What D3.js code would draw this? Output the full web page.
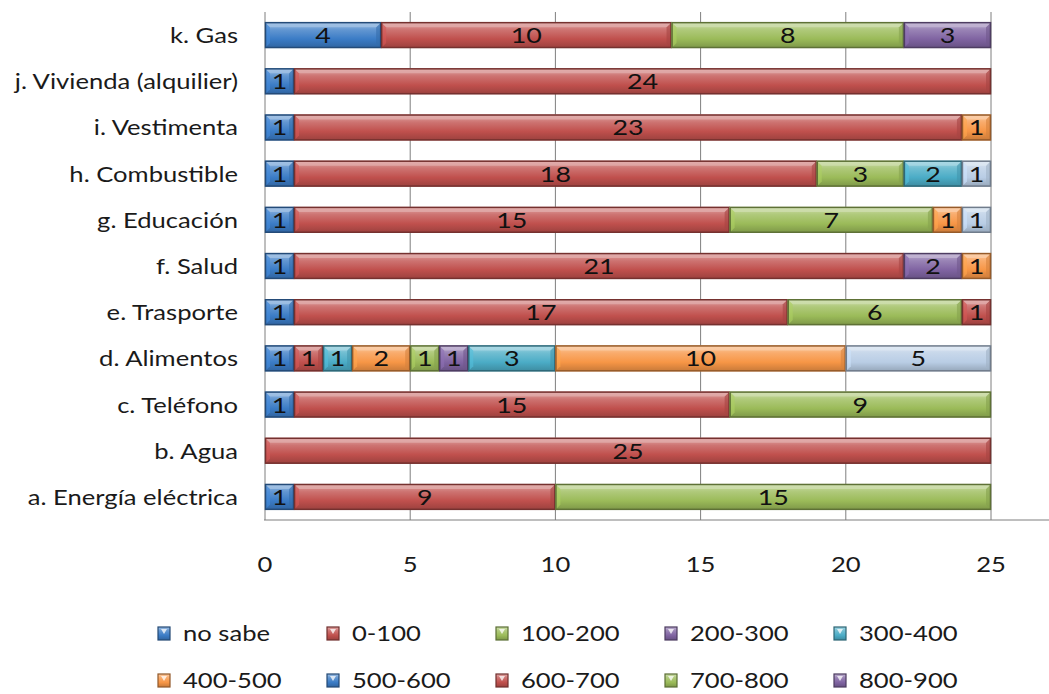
<!DOCTYPE html>
<html>
<head>
<meta charset="utf-8">
<script src="https://cdn.jsdelivr.net/npm/d3@7"></script>
<style>
  html, body { margin: 0; padding: 0; background: #fff; }
  svg { display: block; font-family: Lato, "Open Sans", sans-serif; }
</style>
</head>
<body>
<svg id="chart" width="1049" height="694"></svg>
<script>
// ---- data ----
const categories = ["k. Gas", "j. Vivienda (alquilier)", "i. Vestimenta", "h. Combustible",
  "g. Educación", "f. Salud", "e. Trasporte", "d. Alimentos", "c. Teléfono", "b. Agua",
  "a. Energía eléctrica"];
const seriesNames = ["no sabe", "0-100", "100-200", "200-300", "300-400", "400-500",
  "500-600", "600-700", "700-800", "800-900", "900-1000", "1000-1100", "más de 1100"];
const legendNames = seriesNames.slice(0, 10);
const sNoSabe   = [4, 1, 1, 1, 1, 1, 1, 1, 1, 0, 1];
const s0_100    = [10, 24, 23, 18, 15, 21, 17, 1, 15, 25, 9];
const s100_200  = [8, 0, 0, 3, 7, 0, 6, 0, 9, 0, 15];
const s200_300  = [3, 0, 0, 0, 0, 2, 0, 0, 0, 0, 0];
const s300_400  = [0, 0, 0, 2, 0, 0, 0, 1, 0, 0, 0];
const s400_500  = [0, 0, 1, 0, 1, 1, 0, 2, 0, 0, 0];
const s500_600  = [0, 0, 0, 0, 0, 0, 0, 0, 0, 0, 0];
const s600_700  = [0, 0, 0, 0, 0, 0, 1, 0, 0, 0, 0];
const s700_800  = [0, 0, 0, 0, 0, 0, 0, 1, 0, 0, 0];
const s800_900  = [0, 0, 0, 0, 0, 0, 0, 1, 0, 0, 0];
const s900_1000 = [0, 0, 0, 0, 0, 0, 0, 3, 0, 0, 0];
const s1000_1100= [0, 0, 0, 0, 0, 0, 0, 10, 0, 0, 0];
const sMas1100  = [0, 0, 0, 1, 1, 0, 0, 5, 0, 0, 0];
const seriesValues = [sNoSabe, s0_100, s100_200, s200_300, s300_400, s400_500, s500_600,
  s600_700, s700_800, s800_900, s900_1000, s1000_1100, sMas1100];
const xTicks = [0, 5, 10, 15, 20, 25];
const seriesColors = ["#3b7cc6", "#c0504d", "#9bbb59", "#8064a2", "#4bacc6", "#f79646",
  "#3b7cc6", "#c0504d", "#9bbb59", "#8064a2", "#4bacc6", "#f79646", "#b9cde5"];

// ---- table ----
const table = categories.map((c, i) => {
  const row = { cat: c };
  seriesNames.forEach((s, j) => row[s] = seriesValues[j][i]);
  return row;
});
const stacked = d3.stack().keys(seriesNames)(table);

const svg = d3.select("#chart");
const x = d3.scaleLinear().domain([0, 25]).range([265, 991]);
const y = d3.scaleBand().domain(categories).range([12, 520]).paddingInner(0.44).paddingOuter(0.22);
const color = d3.scaleOrdinal().domain(seriesNames).range(seriesColors);
const SX = 1.22, FS = 21;
const place = (sel, fx, fy) => sel.attr("transform", (d, i) => `translate(${fx(d, i)},${fy(d, i)}) scale(${SX},1)`);

// gradients
const defs = svg.append("defs");
seriesNames.forEach((s, i) => {
  const c = d3.color(color(s));
  const g = defs.append("linearGradient").attr("id", "g" + i)
    .attr("x1", 0).attr("y1", 0).attr("x2", 0).attr("y2", 1);
  g.append("stop").attr("offset", "0%").attr("stop-color", d3.interpolateRgb(c, "#fff")(0.5));
  g.append("stop").attr("offset", "30%").attr("stop-color", d3.interpolateRgb(c, "#fff")(0.2));
  g.append("stop").attr("offset", "65%").attr("stop-color", c.formatHex());
  g.append("stop").attr("offset", "100%").attr("stop-color", c.darker(0.6).formatHex());
});

// gridlines
svg.append("g").selectAll("line").data(xTicks.filter(t => t > 0)).join("line")
  .attr("x1", d => x(d)).attr("x2", d => x(d))
  .attr("y1", 12).attr("y2", 520)
  .attr("stroke", "#7f7f7f").attr("stroke-width", 1);
// axis lines
svg.append("line").attr("x1", x(0)).attr("x2", x(0)).attr("y1", 12).attr("y2", 520)
  .attr("stroke", "#7f7f7f");
svg.append("line").attr("x1", x(0) - 1).attr("x2", 1049).attr("y1", 520).attr("y2", 520)
  .attr("stroke", "#7f7f7f");

// x tick labels
svg.append("g").selectAll("text").data(xTicks).join("text")
  .call(place, d => x(d), () => 572)
  .attr("text-anchor", "middle").attr("font-size", FS).attr("fill", "#1a1a1a")
  .text(d => d);

// category labels
svg.append("g").selectAll("text").data(categories).join("text")
  .call(place, () => 238, d => y(d) + y.bandwidth() / 2 + 8)
  .attr("text-anchor", "end").attr("font-size", FS).attr("fill", "#1a1a1a")
  .text(d => d);

// bars
const b = 5;
stacked.forEach((layer, i) => {
  const c = d3.color(seriesColors[i]);
  const segs = layer.filter(d => d[1] - d[0] > 0);
  const g = svg.append("g");
  segs.forEach(d => {
    const x0 = x(d[0]), x1 = x(d[1]), y0 = y(d.data.cat), h = y.bandwidth();
    g.append("rect").attr("x", x0).attr("y", y0).attr("width", x1 - x0).attr("height", h)
      .attr("fill", `url(#g${i})`);
    g.append("polygon").attr("points", `${x0},${y0} ${x0 + b},${y0 + b} ${x0 + b},${y0 + h - b} ${x0},${y0 + h}`)
      .attr("fill", c.brighter(0.3).formatHex()).attr("opacity", 0.6);
    g.append("polygon").attr("points", `${x1},${y0} ${x1 - b},${y0 + b} ${x1 - b},${y0 + h - b} ${x1},${y0 + h}`)
      .attr("fill", c.darker(0.4).formatHex()).attr("opacity", 0.6);
    g.append("polygon").attr("points", `${x0},${y0} ${x1},${y0} ${x1 - b},${y0 + b} ${x0 + b},${y0 + b}`)
      .attr("fill", d3.interpolateRgb(c, "#fff")(0.55)).attr("opacity", 0.7);
    g.append("rect").attr("x", x0 + 0.5).attr("y", y0 + 0.5).attr("width", x1 - x0 - 1).attr("height", h - 1)
      .attr("fill", "none").attr("stroke", c.darker(1.4).formatHex()).attr("stroke-width", 1.5);
    g.append("text")
      .attr("transform", `translate(${(x0 + x1) / 2},${y0 + h / 2 + 8}) scale(${SX},1)`)
      .attr("text-anchor", "middle").attr("font-size", FS + 1).attr("fill", "#111")
      .text(d[1] - d[0]);
  });
});

// legend
const legend = svg.append("g");
legendNames.forEach((s, i) => {
  const col = i % 5, row = Math.floor(i / 5);
  const lx = 158 + col * 169, ly = 633 + row * 47;
  const c = d3.color(color(s));
  const item = legend.append("g");
  item.append("rect").attr("x", lx).attr("y", ly - 6).attr("width", 12).attr("height", 13)
    .attr("fill", `url(#g${i})`).attr("stroke", c.darker(1.5).formatHex()).attr("stroke-width", 1.2);
  item.append("polygon").attr("points", `${lx + 3},${ly - 4} ${lx + 9},${ly - 4} ${lx + 6},${ly + 1}`)
    .attr("fill", "#fff").attr("opacity", 0.75);
  item.append("text")
    .attr("transform", `translate(${lx + 25},${ly + 8}) scale(${SX},1)`)
    .attr("font-size", FS).attr("fill", "#1a1a1a").text(s);
});
</script>
</body>
</html>
